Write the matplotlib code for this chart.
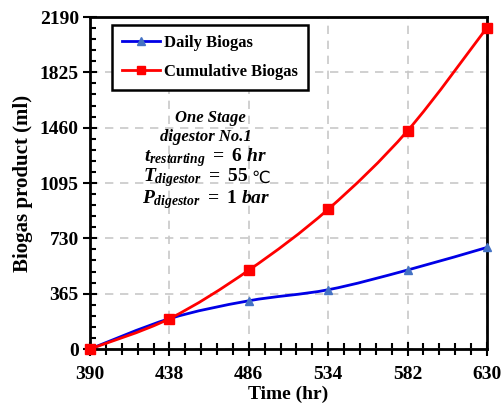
import matplotlib
matplotlib.use("Agg")
import matplotlib.pyplot as plt
from matplotlib.path import Path
from matplotlib.patches import PathPatch
from matplotlib.ticker import AutoMinorLocator
import numpy as np

time_hr = [390, 438, 486, 534, 582, 630]
daily_biogas = [0, 200, 318, 391, 521, 670]
cumulative_biogas = [0, 200, 520, 922, 1440, 2120]
x_ticks = [390, 438, 486, 534, 582, 630]
y_ticks = [0, 365, 730, 1095, 1460, 1825, 2190]

plt.rcParams['font.family'] = ['Liberation Serif', 'DejaVu Serif']
plt.rcParams['mathtext.fontset'] = 'custom'
plt.rcParams['mathtext.rm'] = 'Liberation Serif:bold'
plt.rcParams['mathtext.it'] = 'Liberation Serif:bold:italic'
plt.rcParams['mathtext.bf'] = 'Liberation Serif:bold'

fig = plt.figure(figsize=(5.03, 4.07), dpi=100)
L, R, T, B = 90, 487, 17, 349
ax = fig.add_axes([L/503, 1-B/407, (R-L)/503, (B-T)/407])


def smooth_path(xs, ys, t=0.5):
    xs = np.asarray(xs, float); ys = np.asarray(ys, float)
    verts = [(xs[0], ys[0])]
    codes = [Path.MOVETO]
    n = len(xs)
    for i in range(n - 1):
        p0 = np.array([xs[max(i-1, 0)], ys[max(i-1, 0)]])
        p1 = np.array([xs[i], ys[i]])
        p2 = np.array([xs[i+1], ys[i+1]])
        p3 = np.array([xs[min(i+2, n-1)], ys[min(i+2, n-1)]])
        c1 = p1 + (p2 - p0) * t / 3
        c2 = p2 - (p3 - p1) * t / 3
        verts += [tuple(c1), tuple(c2), tuple(p2)]
        codes += [Path.CURVE4] * 3
    return Path(verts, codes)

for ys, col in [(daily_biogas, '#0000e6'), (cumulative_biogas, '#ff0000')]:
    ax.add_patch(PathPatch(smooth_path(time_hr, ys), facecolor='none', edgecolor=col, lw=2, zorder=3, clip_on=False))

ax.plot(time_hr, daily_biogas, linestyle='none', marker='^', color='#4472c4', ms=6, zorder=4, clip_on=False)
ax.plot(time_hr, cumulative_biogas, linestyle='none', marker='s', color='#ff0000', ms=7, zorder=4, clip_on=False)

# legend proxies
ax.plot([], [], color='#0000e6', lw=2, marker='^', mfc='#4472c4', mec='#4472c4', ms=6, label='Daily Biogas')
ax.plot([], [], color='#ff0000', lw=2, marker='s', ms=6, label='Cumulative Biogas')

ax.set_xlim(390, 630)
ax.set_ylim(0, 2190)
ax.set_xticks(x_ticks)
ax.set_yticks(y_ticks)
ax.xaxis.set_minor_locator(AutoMinorLocator(5))
ax.yaxis.set_minor_locator(AutoMinorLocator(5))
ax.tick_params(which='both', width=1.5, labelsize=14)
ax.tick_params(axis='x', which='major', direction='inout', length=10, pad=7)
ax.tick_params(axis='x', which='minor', direction='inout', length=8)
ax.tick_params(axis='y', which='major', direction='inout', length=10, pad=3)
ax.tick_params(axis='y', which='minor', direction='in', length=4)
for lab in ax.get_xticklabels() + ax.get_yticklabels():
    lab.set_fontweight('bold')
ax.grid(True, which='major', linestyle=(0, (5, 4)), color='#c8c8c8', lw=1.2)
ax.set_axisbelow(True)
for s in ax.spines.values():
    s.set_linewidth(2)

ax.set_xlabel('Time (hr)', fontsize=14, fontweight='bold', labelpad=2)
ax.set_ylabel('Biogas product (ml)', fontsize=15, fontweight='bold', labelpad=5)

leg = ax.legend(loc='upper left', bbox_to_anchor=(0.055, 0.976), borderaxespad=0,
                prop={'weight': 'bold', 'size': 12},
                fancybox=False, edgecolor='black', framealpha=1, handlelength=2.3,
                labelspacing=0.8, borderpad=0.6, handletextpad=0.25)
leg.get_frame().set_linewidth(1.8)

cx = 0.292
ax.text(cx + 0.01, 0.696, 'One Stage', transform=ax.transAxes, ha='center', va='center',
        fontsize=12, fontweight='bold', style='italic')
ax.text(cx, 0.639, 'digestor No.1', transform=ax.transAxes, ha='center', va='center',
        fontsize=12, fontweight='bold', style='italic')
ax.text(cx, 0.578, r'$t_{restarting}\ =\ 6\ hr$', transform=ax.transAxes, ha='center', va='center',
        fontsize=14)
tt = ax.text(cx - 0.025, 0.515, r'$T_{digestor}\ =\ \mathrm{55}$', transform=ax.transAxes, ha='center', va='center',
             fontsize=14)
ax.annotate('℃', xy=(1, 0.5), xycoords=tt, xytext=(2, 0), textcoords='offset points',
            ha='left', va='center', fontsize=12, family='DejaVu Sans')
ax.text(cx, 0.449, r'$P_{digestor}\ =\ \mathrm{1}\ bar$', transform=ax.transAxes, ha='center', va='center',
        fontsize=14)

fig.savefig('out.png', dpi=100)
